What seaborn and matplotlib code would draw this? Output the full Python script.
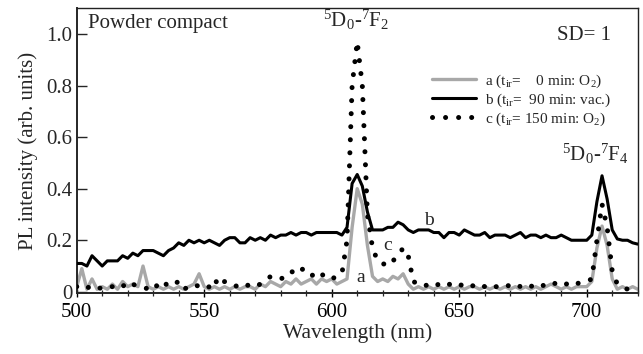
import numpy as np
import pandas as pd
import matplotlib
matplotlib.use("Agg")
import matplotlib.pyplot as plt
from matplotlib.ticker import MultipleLocator, FixedLocator, FixedFormatter
import seaborn as sns

# Wavelength grid (nm), 2 nm step
wavelength = list(range(500, 722, 2))

# a: t_ir = 0 min, O2
series_a = [
    0.02, 0.09, 0.01, 0.05, 0.01, 0.02, 0.01, 0.03, 0.01, 0.04,   # 500-518
    0.02, 0.03, 0.02, 0.10, 0.02, 0.01, 0.02, 0.01, 0.02, 0.01,   # 520-538
    0.02, 0.01, 0.02, 0.03, 0.07, 0.02, 0.01, 0.02, 0.01, 0.02,   # 540-558
    0.01, 0.02, 0.01, 0.02, 0.02, 0.01, 0.03, 0.02, 0.04, 0.03,   # 560-578
    0.02, 0.04, 0.03, 0.05, 0.03, 0.04, 0.05, 0.03, 0.05, 0.04,   # 580-598
    0.05, 0.03, 0.04, 0.05, 0.25, 0.40, 0.34, 0.18, 0.06, 0.04,   # 600-618
    0.05, 0.04, 0.06, 0.05, 0.07, 0.03, 0.01, 0.02, 0.01, 0.02,   # 620-638
    0.01, 0.02, 0.01, 0.02, 0.01, 0.02, 0.01, 0.02, 0.02, 0.01,   # 640-658
    0.02, 0.01, 0.02, 0.01, 0.02, 0.01, 0.02, 0.01, 0.02, 0.01,   # 660-678
    0.02, 0.01, 0.02, 0.03, 0.02, 0.01, 0.02, 0.01, 0.02, 0.02,   # 680-698
    0.02, 0.04, 0.17, 0.255, 0.18, 0.05, 0.01, 0.02, 0.01, 0.02,  # 700-718
    0.01,                                                         # 720
]

# b: t_ir = 90 min, vacuum
series_b = [
    0.11, 0.11, 0.10, 0.14, 0.12, 0.10, 0.12, 0.12, 0.12, 0.14,   # 500-518
    0.13, 0.15, 0.14, 0.16, 0.16, 0.16, 0.15, 0.14, 0.16, 0.17,   # 520-538
    0.19, 0.18, 0.20, 0.19, 0.20, 0.19, 0.20, 0.19, 0.18, 0.20,   # 540-558
    0.21, 0.21, 0.19, 0.19, 0.21, 0.20, 0.21, 0.20, 0.22, 0.21,   # 560-578
    0.22, 0.22, 0.23, 0.22, 0.23, 0.23, 0.22, 0.23, 0.23, 0.23,   # 580-598
    0.23, 0.23, 0.22, 0.25, 0.42, 0.455, 0.41, 0.31, 0.24, 0.24,  # 600-618
    0.24, 0.25, 0.25, 0.27, 0.26, 0.24, 0.23, 0.24, 0.24, 0.24,   # 620-638
    0.23, 0.23, 0.21, 0.23, 0.23, 0.22, 0.24, 0.23, 0.22, 0.22,   # 640-658
    0.23, 0.21, 0.22, 0.22, 0.22, 0.21, 0.22, 0.23, 0.21, 0.22,   # 660-678
    0.22, 0.21, 0.22, 0.21, 0.21, 0.22, 0.21, 0.20, 0.20, 0.20,   # 680-698
    0.20, 0.22, 0.35, 0.45, 0.36, 0.24, 0.205, 0.20, 0.20, 0.19,  # 700-718
    0.185,                                                        # 720
]

# c: t_ir = 150 min, O2
series_c = [
    0.02, 0.01, 0.02, 0.01, 0.02, 0.01, 0.02, 0.02, 0.03, 0.02,   # 500-518
    0.04, 0.03, 0.02, 0.02, 0.01, 0.03, 0.02, 0.04, 0.02, 0.03,   # 520-538
    0.04, 0.01, 0.02, 0.03, 0.02, 0.01, 0.02, 0.05, 0.02, 0.04,   # 540-558
    0.03, 0.02, 0.03, 0.02, 0.03, 0.02, 0.03, 0.04, 0.06, 0.05,   # 560-578
    0.05, 0.06, 0.08, 0.07, 0.09, 0.08, 0.06, 0.08, 0.07, 0.05,   # 580-598
    0.05, 0.06, 0.07, 0.20, 0.80, 0.97, 0.80, 0.30, 0.17, 0.12,   # 600-618
    0.11, 0.10, 0.12, 0.14, 0.17, 0.14, 0.04, 0.03, 0.02, 0.03,   # 620-638
    0.02, 0.03, 0.04, 0.03, 0.02, 0.03, 0.02, 0.03, 0.02, 0.03,   # 640-658
    0.02, 0.03, 0.02, 0.02, 0.03, 0.02, 0.03, 0.02, 0.03, 0.02,   # 660-678
    0.03, 0.02, 0.03, 0.04, 0.03, 0.02, 0.03, 0.04, 0.03, 0.04,   # 680-698
    0.04, 0.05, 0.20, 0.34, 0.25, 0.08, 0.03, 0.02, 0.01, 0.02,   # 700-718
    0.01,                                                         # 720
]

series_labels = [
    "a (t$_{\\mathrm{ir}}$=    0 min: O$_2$)",
    "b (t$_{\\mathrm{ir}}$=  90 min: vac.)",
    "c (t$_{\\mathrm{ir}}$= 150 min: O$_2$)",
]

xtick_values = [500, 550, 600, 650, 700]
ytick_values = [0.0, 0.2, 0.4, 0.6, 0.8, 1.0]
ytick_labels = ["0", "0.2", "0.4", "0.6", "0.8", "1.0"]

df = pd.DataFrame({"wl": wavelength, "a": series_a, "b": series_b, "c": series_c})

sns.set_style("ticks")
plt.rcParams["font.family"] = ["Liberation Serif", "DejaVu Serif"]
plt.rcParams["mathtext.fontset"] = "custom"
plt.rcParams["mathtext.rm"] = "Liberation Serif"
plt.rcParams["mathtext.it"] = "Liberation Serif:italic"
plt.rcParams["mathtext.bf"] = "Liberation Serif:bold"

fig = plt.figure(figsize=(6.43, 3.54), dpi=100)
ax = fig.add_axes([0.1193, 0.172, 0.8725, 0.805])

sns.lineplot(data=df, x="wl", y="a", ax=ax, color="#a8a8a8", lw=2.4,
             label=series_labels[0], zorder=2)
sns.lineplot(data=df, x="wl", y="b", ax=ax, color="black", lw=2.2,
             label=series_labels[1], zorder=3)
sns.lineplot(data=df, x="wl", y="c", ax=ax, color="black", lw=3.6,
             linestyle=(0, (0.01, 2.6)), dash_capstyle="round",
             label=series_labels[2], zorder=4)

ax.set_xlim(500, 720)
ax.set_ylim(-0.005, 1.10)

ax.xaxis.set_major_locator(FixedLocator(xtick_values))
ax.xaxis.set_minor_locator(MultipleLocator(10))
ax.yaxis.set_major_locator(FixedLocator(ytick_values))
ax.yaxis.set_major_formatter(FixedFormatter(ytick_labels))

ax.tick_params(axis="x", which="major", direction="inout", length=6, width=1.0,
               labelsize=15, pad=4, colors="black")
ax.tick_params(axis="x", which="minor", direction="inout", length=5, width=0.9)
ax.tick_params(axis="y", which="major", direction="in", length=7, width=1.0,
               labelsize=15, pad=3)

for side in ["left", "bottom"]:
    ax.spines[side].set_linewidth(1.4)
for side in ["top", "right"]:
    ax.spines[side].set_visible(True)
    ax.spines[side].set_linewidth(1.0)
    ax.spines[side].set_color("#222222")

ax.set_xlabel("Wavelength (nm)", fontsize=15.5, labelpad=1)
ax.set_ylabel("PL intensity (arb. units)", fontsize=15, labelpad=6)

leg = ax.legend(loc="upper left", bbox_to_anchor=(0.633, 0.775), frameon=False,
                fontsize=11, handlelength=2.9, handletextpad=0.6,
                labelspacing=0.12, borderpad=0, borderaxespad=0)

ax.text(0.02, 0.93, "Powder compact", transform=ax.transAxes, fontsize=15,
        ha="left", va="baseline")
ax.text(0.856, 0.888, "SD= 1", transform=ax.transAxes, fontsize=15,
        ha="left", va="baseline")
ax.text(609.5, 1.028, "$^5$D$_0$-$^7$F$_2$", fontsize=15, ha="center", va="baseline")
ax.text(703.5, 0.507, "$^5$D$_0$-$^7$F$_4$", fontsize=15, ha="center", va="baseline")

ax.text(638, 0.275, "b", fontsize=14, ha="center", va="center")
ax.text(622, 0.178, "c", fontsize=14, ha="center", va="center")
ax.text(611.3, 0.055, "a", fontsize=14, ha="center", va="center")

fig.savefig("out.png", dpi=100)
